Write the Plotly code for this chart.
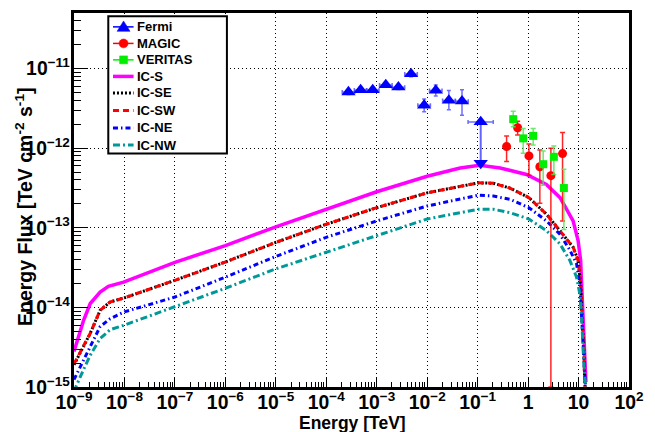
import plotly.graph_objects as go

# ---------------- data (energies in TeV, energy flux in TeV cm^-2 s^-1) ----------------
FERMI_E = [2.75e-4, 4.79e-4, 8.32e-4, 1.51e-3, 2.69e-3, 4.79e-3, 8.71e-3, 1.48e-2, 2.69e-2, 4.9e-2]
FERMI_E_MIN = [2.07e-4, 3.59e-4, 6.24e-4, 1.135e-3, 2.02e-3, 3.59e-3, 6.53e-3, 1.11e-2, 2.02e-2, 3.67e-2]
FERMI_E_MAX = [3.67e-4, 6.38e-4, 1.11e-3, 2.02e-3, 3.59e-3, 6.38e-3, 1.16e-2, 1.97e-2, 3.59e-2, 6.53e-2]
FERMI_F = [5.07e-12, 5.4e-12, 5.4e-12, 6.25e-12, 5.85e-12, 8.57e-12, 3.46e-12, 5.32e-12, 3.99e-12, 3.9e-12]
FERMI_F_MIN = [4.73e-12, 5.04e-12, 5.04e-12, 5.83e-12, 5.46e-12, 7.91e-12, 2.88e-12, 4.53e-12, 3.05e-12, 2.6e-12]
FERMI_F_MAX = [5.43e-12, 5.79e-12, 5.79e-12, 6.70e-12, 6.27e-12, 9.28e-12, 4.16e-12, 6.25e-12, 5.32e-12, 5.42e-12]

FERMI_UL_E = [0.115]
FERMI_UL_E_MIN = [6.46e-2]
FERMI_UL_E_MAX = [0.204]
FERMI_UL_F = [2.14e-12]
FERMI_UL_ARROW_END = [6.5e-13]

MAGIC_E = [0.375, 0.62, 1.04, 1.71, 2.83, 4.82]
MAGIC_F = [1.05e-12, 1.81e-12, 8.0e-13, 5.85e-13, 4.52e-13, 8.57e-13]
MAGIC_F_MAX = [1.42e-12, 2.19e-12, 1.13e-12, 9.5e-13, 1.0e-12, 1.58e-12]
MAGIC_F_MIN = [6.8e-13, 1.47e-12, 4.56e-13, 2.04e-13, 1.0e-15, 1.22e-13]

VERITAS_E = [0.507, 0.80, 1.26, 1.99, 3.24, 5.12]
VERITAS_F = [2.32e-12, 1.33e-12, 1.43e-12, 6.3e-13, 7.8e-13, 3.16e-13]
VERITAS_F_MAX = [2.92e-12, 1.77e-12, 1.77e-12, 9.25e-13, 1.07e-12, 5.46e-13]
VERITAS_F_MIN = [1.86e-12, 8.65e-13, 1.1e-12, 3.42e-13, 4.69e-13, 9.5e-14]

IC_S_E = [1.0e-9, 1.55e-9, 2.1e-9, 3.3e-9, 4.8e-9, 9.6e-9, 1.0e-7, 1.0e-6, 1.0e-5, 1.0e-4, 1.0e-3,
          1.0e-2, 4.5e-2, 0.11, 0.28, 0.93, 2.3, 4.3, 7.8, 9.8, 11.0, 11.5, 12.3, 13.3, 14.0]
IC_S_F = [2.8e-15, 6.9e-15, 1.12e-14, 1.56e-14, 1.84e-14, 2.08e-14, 3.69e-14, 5.97e-14, 1.03e-13, 1.71e-13,
          2.84e-13, 4.45e-13, 5.65e-13, 6.1e-13, 5.65e-13, 4.68e-13, 3.51e-13, 2.39e-13, 1.22e-13, 6.9e-14,
          3.9e-14, 2.0e-14, 7.6e-15, 2.95e-15, 1.15e-15]

IC_SE_E = [1.0e-9, 1.55e-9, 2.1e-9, 3.3e-9, 5.2e-9, 1.0e-8, 1.0e-7, 1.0e-6, 1.0e-5, 1.0e-4, 1.0e-3,
           1.0e-2, 0.103, 0.204, 0.437, 1.04, 2.32, 4.27, 7.82, 9.8, 11.0, 11.7, 12.7, 13.3, 14.0]
IC_SE_F = [1.9e-15, 3.24e-15, 4.73e-15, 9.2e-15, 1.17e-14, 1.32e-14, 2.19e-14, 3.72e-14, 6.56e-14, 1.11e-13,
           1.79e-13, 2.75e-13, 3.67e-13, 3.63e-13, 3.16e-13, 2.39e-13, 1.48e-13, 9.2e-14, 5.69e-14, 3.89e-14,
           2.0e-14, 7.6e-15, 2.95e-15, 1.12e-15, 8.0e-16]

IC_SW_E = IC_SE_E
IC_SW_F = [1.95e-15, 3.24e-15, 4.73e-15, 9.2e-15, 1.17e-14, 1.32e-14, 2.19e-14, 3.72e-14, 6.56e-14, 1.11e-13,
           1.79e-13, 2.75e-13, 3.67e-13, 3.63e-13, 3.16e-13, 2.39e-13, 1.48e-13, 9.2e-14, 5.69e-14, 3.89e-14,
           2.0e-14, 7.6e-15, 2.95e-15, 1.12e-15, 8.0e-16]

IC_NE_E = [1.0e-9, 1.55e-9, 2.1e-9, 3.3e-9, 5.2e-9, 1.0e-8, 1.0e-7, 1.0e-6, 1.0e-5, 1.0e-4, 1.0e-3,
           1.0e-2, 0.103, 0.204, 0.437, 1.04, 2.32, 4.27, 6.73, 9.12, 10.6, 11.5, 12.3, 13.3, 14.0]
IC_NE_F = [1.24e-15, 2.19e-15, 3.24e-15, 5.75e-15, 7.2e-15, 8.8e-15, 1.35e-14, 2.4e-14, 4.37e-14, 7.6e-14,
           1.22e-13, 1.88e-13, 2.57e-13, 2.51e-13, 2.28e-13, 1.79e-13, 1.22e-13, 8.3e-14, 5.25e-14, 3.55e-14,
           2.0e-14, 7.6e-15, 2.95e-15, 1.12e-15, 8.0e-16]

IC_NW_E = [1.0e-9, 1.1e-9, 1.55e-9, 2.1e-9, 3.3e-9, 5.2e-9, 1.0e-8, 1.0e-7, 1.0e-6, 1.0e-5, 1.0e-4, 1.0e-3,
           1.0e-2, 0.103, 0.204, 0.437, 1.04, 2.32, 4.27, 6.73, 9.12, 10.6, 11.5, 12.3, 13.3, 14.0]
IC_NW_F = [8.7e-16, 1.02e-15, 1.66e-15, 2.51e-15, 4.07e-15, 5.25e-15, 6.0e-15, 1.02e-14, 1.74e-14, 3.05e-14,
           4.9e-14, 7.9e-14, 1.29e-13, 1.71e-13, 1.71e-13, 1.55e-13, 1.29e-13, 9.2e-14, 6.3e-14, 3.89e-14,
           2.4e-14, 1.48e-14, 7.6e-15, 2.95e-15, 1.12e-15, 8.0e-16]

LEGEND_LABELS = ["Fermi", "MAGIC", "VERITAS", "IC-S", "IC-SE", "IC-SW", "IC-NE", "IC-NW"]

# ---------------- styles ----------------
FONT = "Liberation Sans, Arial, Helvetica, sans-serif"
BLUE = "#0000FF"
RED = "#FF0000"
GREEN = "#00EE00"
MAGENTA = "#FF00FF"
TEAL = "#009999"
ERR_BLUE = "rgba(60,60,255,0.75)"

CURVE_STYLES = {
    "IC-S": dict(color=MAGENTA, width=3.5),
    "IC-SE": dict(color="black", width=3, dash="2px,2px"),
    "IC-SW": dict(color=RED, width=3, dash="6px,4px"),
    "IC-NE": dict(color=BLUE, width=3, dash="5px,3px,1.5px,3px"),
    "IC-NW": dict(color=TEAL, width=3, dash="7px,3px,2px,3px"),
}

# page geometry (the browser page adds an 8px body margin)
FIG_W, FIG_H = 647, 424
M_L, M_R, M_T, M_B = 65.7, 26, 2, 44.5
PLOT_W = FIG_W - M_L - M_R
PLOT_H = FIG_H - M_T - M_B
OFF = 8


def px(x):  # page x pixel -> paper coordinate
    return (x - OFF - M_L) / PLOT_W


def py(y):  # page y pixel -> paper coordinate
    return 1 - (y - OFF - M_T) / PLOT_H


fig = go.Figure()

# model curves
for name, xs, ys in [("IC-S", IC_S_E, IC_S_F), ("IC-SE", IC_SE_E, IC_SE_F), ("IC-SW", IC_SW_E, IC_SW_F),
                     ("IC-NE", IC_NE_E, IC_NE_F), ("IC-NW", IC_NW_E, IC_NW_F)]:
    fig.add_trace(go.Scatter(x=xs, y=ys, mode="lines", name=name, showlegend=False,
                             line=CURVE_STYLES[name]))

# Fermi points
fig.add_trace(go.Scatter(
    x=FERMI_E, y=FERMI_F, mode="markers", name="Fermi", showlegend=False,
    marker=dict(symbol="triangle-up", size=12.5, color=BLUE),
    error_x=dict(type="data", symmetric=False,
                 array=[hi - e for hi, e in zip(FERMI_E_MAX, FERMI_E)],
                 arrayminus=[e - lo for lo, e in zip(FERMI_E_MIN, FERMI_E)],
                 color=ERR_BLUE, thickness=1.5, width=2),
    error_y=dict(type="data", symmetric=False,
                 array=[hi - f for hi, f in zip(FERMI_F_MAX, FERMI_F)],
                 arrayminus=[f - lo for lo, f in zip(FERMI_F_MIN, FERMI_F)],
                 color=ERR_BLUE, thickness=1.5, width=2)))

# Fermi upper limit with arrow
fig.add_trace(go.Scatter(
    x=FERMI_UL_E, y=FERMI_UL_F, mode="markers", showlegend=False,
    marker=dict(symbol="triangle-up", size=12.5, color=BLUE),
    error_x=dict(type="data", symmetric=False,
                 array=[hi - e for hi, e in zip(FERMI_UL_E_MAX, FERMI_UL_E)],
                 arrayminus=[e - lo for lo, e in zip(FERMI_UL_E_MIN, FERMI_UL_E)],
                 color=ERR_BLUE, thickness=1.5, width=2),
    error_y=dict(type="data", symmetric=False,
                 array=[0.0],
                 arrayminus=[f - a for f, a in zip(FERMI_UL_F, FERMI_UL_ARROW_END)],
                 color="rgba(60,60,255,0.8)", thickness=2, width=0)))
fig.add_trace(go.Scatter(
    x=FERMI_UL_E, y=FERMI_UL_ARROW_END, mode="markers", showlegend=False,
    marker=dict(symbol="triangle-down", size=12.5, color=BLUE)))

# MAGIC
fig.add_trace(go.Scatter(
    x=MAGIC_E, y=MAGIC_F, mode="markers", name="MAGIC", showlegend=False,
    marker=dict(symbol="circle", size=9, color=RED),
    error_y=dict(type="data", symmetric=False,
                 array=[hi - f for hi, f in zip(MAGIC_F_MAX, MAGIC_F)],
                 arrayminus=[f - lo for lo, f in zip(MAGIC_F_MIN, MAGIC_F)],
                 color="rgba(255,0,0,0.85)", thickness=1.5, width=2.5)))

# VERITAS
fig.add_trace(go.Scatter(
    x=VERITAS_E, y=VERITAS_F, mode="markers", name="VERITAS", showlegend=False,
    marker=dict(symbol="square", size=8, color=GREEN),
    error_y=dict(type="data", symmetric=False,
                 array=[hi - f for hi, f in zip(VERITAS_F_MAX, VERITAS_F)],
                 arrayminus=[f - lo for lo, f in zip(VERITAS_F_MIN, VERITAS_F)],
                 color="rgba(80,230,80,0.85)", thickness=1.5, width=2.5)))

axis_common = dict(
    type="log", showline=True, linecolor="black", linewidth=3, mirror=True,
    showgrid=True, gridcolor="black", gridwidth=1, griddash="1px,3px",
    ticks="inside", tickcolor="black", tickwidth=1,
    dtick=1, exponentformat="power", zeroline=False,
    tickfont=dict(family=FONT, size=15.5, color="black", weight="bold"),
)

fig.update_xaxes(range=[-9, 2], ticklen=10, ticklabelstandoff=-3,
                 minor=dict(ticks="inside", ticklen=5, tickcolor="black", dtick="D1", showgrid=False),
                 **axis_common)
fig.update_yaxes(range=[-15, -10.301], ticklen=14, ticklabelstandoff=-2,
                 minor=dict(ticks="inside", ticklen=7, tickcolor="black", dtick="D1", showgrid=False),
                 **axis_common)

# axis titles
fig.add_annotation(text="Energy [TeV]", xref="paper", yref="paper", x=px(352), y=py(423.5),
                   xanchor="center", yanchor="middle", showarrow=False,
                   font=dict(family=FONT, size=17.5, color="black", weight="bold"))
fig.add_annotation(text="Energy Flux [TeV cm<sup>-2</sup> s<sup>-1</sup>]", xref="paper", yref="paper",
                   x=px(23.5), y=py(205), xanchor="center", yanchor="middle", textangle=-90,
                   showarrow=False, font=dict(family=FONT, size=19.5, color="black", weight="bold"))

# ---------------- legend (ROOT-style box) ----------------
shapes = [dict(type="rect", xref="paper", yref="paper", x0=px(108), x1=px(226.7), y0=py(151.7), y1=py(13.3),
               line=dict(color="black", width=2), fillcolor="white", layer="above")]
ROW_Y = [24, 40.7, 57.3, 74, 90.7, 108.3, 126, 143.3]
SYM_X0, SYM_X1, SYM_XC, TEXT_X = 112.7, 133.3, 123.3, 136.7
SYM_STYLE = {"Fermi": (BLUE, "tri"), "MAGIC": (RED, "circ"), "VERITAS": (GREEN, "sq")}

for label, ry in zip(LEGEND_LABELS, ROW_Y):
    if label in SYM_STYLE:
        col, kind = SYM_STYLE[label]
        shapes.append(dict(type="line", xref="paper", yref="paper", x0=px(SYM_X0), x1=px(SYM_X1),
                           y0=py(ry), y1=py(ry), line=dict(color=col, width=1.5), layer="above"))
        if kind == "tri":
            path = "M %f %f L %f %f L %f %f Z" % (px(SYM_XC - 6.5), py(ry + 4.5), px(SYM_XC + 6.5), py(ry + 4.5),
                                                  px(SYM_XC), py(ry - 6))
            shapes.append(dict(type="path", xref="paper", yref="paper", path=path, fillcolor=col,
                               line=dict(color=col, width=0.5), layer="above"))
        elif kind == "circ":
            shapes.append(dict(type="circle", xref="paper", yref="paper", x0=px(SYM_XC - 4.5), x1=px(SYM_XC + 4.5),
                               y0=py(ry + 4.5), y1=py(ry - 4.5), fillcolor=col, line=dict(color=col, width=0.5),
                               layer="above"))
        else:
            shapes.append(dict(type="rect", xref="paper", yref="paper", x0=px(SYM_XC - 4), x1=px(SYM_XC + 4),
                               y0=py(ry + 4), y1=py(ry - 4), fillcolor=col, line=dict(color=col, width=0.5),
                               layer="above"))
    else:
        st = CURVE_STYLES[label]
        shapes.append(dict(type="line", xref="paper", yref="paper", x0=px(SYM_X0), x1=px(SYM_X1),
                           y0=py(ry), y1=py(ry),
                           line=dict(color=st["color"], width=st["width"], dash=st.get("dash", "solid")),
                           layer="above"))
    fig.add_annotation(text=label, xref="paper", yref="paper", x=px(TEXT_X - 2), y=py(ry),
                       xanchor="left", yanchor="middle", showarrow=False,
                       font=dict(family=FONT, size=13, color="black", weight="bold"))

fig.update_layout(
    width=FIG_W, height=FIG_H, autosize=False,
    margin=dict(l=M_L, r=M_R, t=M_T, b=M_B),
    paper_bgcolor="white", plot_bgcolor="white",
    showlegend=False,
    shapes=shapes,
)

fig.write_html("out.html")
